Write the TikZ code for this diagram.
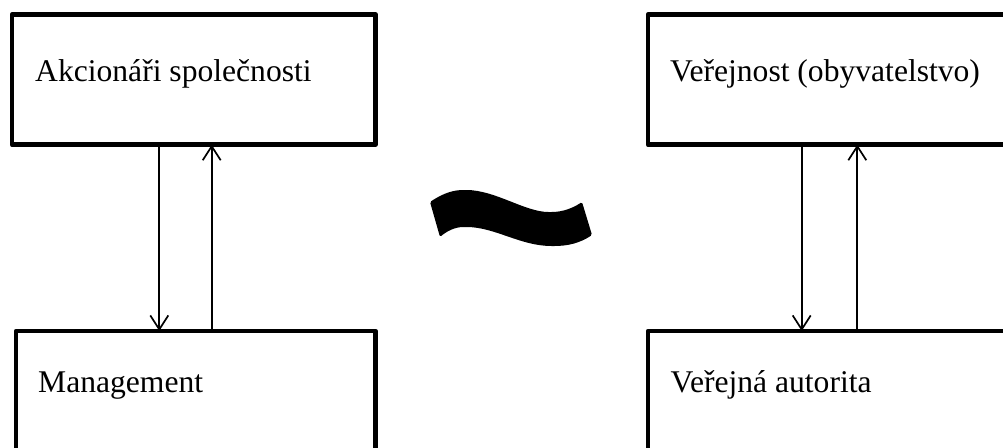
\documentclass[tikz,border=0pt]{standalone}
\usepackage{fontspec}
\setmainfont{Liberation Serif}
\usetikzlibrary{arrows.meta}
\begin{document}
\begin{tikzpicture}[x=1pt,y=-1pt,
  box/.style={draw,line width=4.5pt,line join=round,inner sep=0pt,outer sep=0pt,rectangle},
  lbl/.style={anchor=base west,inner sep=0pt,font=\fontsize{31.6}{36}\selectfont},
  arr/.style={line width=1.7pt,-{Straight Barb[length=14pt,width=18pt,line width=1.7pt]}}]
\clip (0,0) rectangle (1003,447);
\node[box,minimum width=363.5pt,minimum height=130.2pt] (tl) at (193.75,79.6) {};
\node[box,minimum width=359.5pt,minimum height=149pt] (bl) at (195.75,405.5) {};
\node[box,minimum width=392pt,minimum height=130.2pt] (tr) at (844,79.6) {};
\node[box,minimum width=392pt,minimum height=149pt] (br) at (844,405.5) {};
\node[lbl] (t1) at (35,81.7) {Akcionáři společnosti};
\node[lbl] (t2) at (38,392.7) {Management};
\node[lbl] (t3) at (670,81.7) {Veřejnost (obyvatelstvo)};
\node[lbl] (t4) at (670.5,392.7) {Veřejná autorita};
\coordinate (c1) at (159.3,0);
\coordinate (c2) at (211.7,0);
\coordinate (c3) at (801.7,0);
\coordinate (c4) at (857.3,0);
\draw[arr] (tl.south -| c1) -- (bl.north -| c1);
\draw[arr] (bl.north -| c2) -- (tl.south -| c2);
\draw[arr] (tr.south -| c3) -- (br.north -| c3);
\draw[arr] (br.north -| c4) -- (tr.south -| c4);
\fill[rounded corners=1.5pt] (430,202) .. controls (445,192) and (455,190) .. (465,190)
  .. controls (495,190) and (525,212) .. (550,212)
  .. controls (563,212) and (573,208) .. (582,202)
  -- (592,235)
  .. controls (580,243) and (568,246) .. (553,246)
  .. controls (520,246) and (495,227) .. (465,227)
  .. controls (455,227) and (447,231) .. (440,237) -- cycle;
\end{tikzpicture}
\end{document}
